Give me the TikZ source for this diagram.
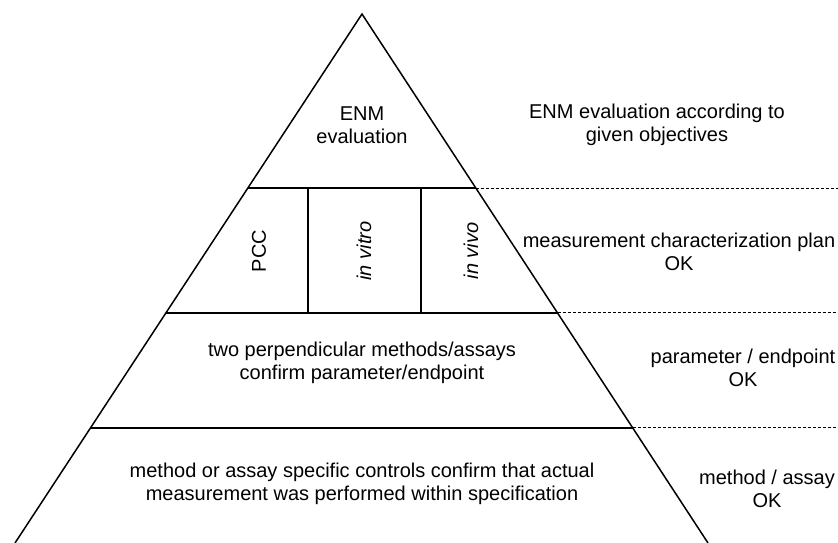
\documentclass[tikz,border=0pt]{standalone}
\usepackage{fontspec}
\setmainfont{Liberation Sans}
\usetikzlibrary{calc}

\begin{document}
\begin{tikzpicture}[
    x=1pt, y=-1pt,
    side/.style={line width=1.5pt, line join=miter},
    tier/.style={line width=1.5pt},
    guide/.style={line width=1pt, dash pattern=on 3pt off 2pt},
    txt/.style={align=center, inner sep=0pt,
        font=\fontsize{20}{22.5}\selectfont},
    upright/.style={txt, rotate=90},
]

% ── Frame ──────────────────────────────────────────────────────────────────
\useasboundingbox (0,0) rectangle (838,543);

% ── Pyramid outline ────────────────────────────────────────────────────────
\coordinate (apex) at (362,14);
\coordinate (bl)   at (15,543);
\coordinate (br)   at (708,543);

\draw[side] (bl) -- (apex) -- (br);

% ── Tier boundaries ────────────────────────────────────────────────────────
\def\tA{0.329}
\def\tB{0.5652}
\def\tC{0.7826}

\coordinate (aL) at ($(apex)!\tA!(bl)$);
\coordinate (aR) at ($(apex)!\tA!(br)$);
\coordinate (bL) at ($(apex)!\tB!(bl)$);
\coordinate (bR) at ($(apex)!\tB!(br)$);
\coordinate (cL) at ($(apex)!\tC!(bl)$);
\coordinate (cR) at ($(apex)!\tC!(br)$);

\draw[tier] (aL) -- (aR);
\draw[tier] (bL) -- (bR);
\draw[tier] (cL) -- (cR);

% dashed guides out to the right margin
\coordinate (aE) at (838,0 |- aR);
\coordinate (bE) at (838,0 |- bR);
\coordinate (cE) at (838,0 |- cR);

\draw[guide] (aR) -- (aE);
\draw[guide] (bR) -- (bE);
\draw[guide] (cR) -- (cE);

% ── Study columns ──────────────────────────────────────────────────────────
\coordinate (v1t) at (308,0 |- aL);
\coordinate (v1b) at (308,0 |- bL);
\coordinate (v2t) at (421,0 |- aL);
\coordinate (v2b) at (421,0 |- bL);

\draw[tier] (v1t) -- (v1b);
\draw[tier] (v2t) -- (v2b);

% ── Labels inside the pyramid ──────────────────────────────────────────────
\node[txt] (top)   at (362,125) {ENM\\evaluation};

\node[upright] (pcc)   at (259,251) {PCC};
\node[upright] (vitro) at (364,251) {\itshape in vitro};
\node[upright] (vivo)  at (471,251) {\itshape in vivo};

\node[txt] (perp)  at (362,363) {two perpendicular methods/assays\\confirm parameter/endpoint};
\node[txt] (ctrl)  at (362,484) {method or assay specific controls confirm that actual\\measurement was performed within specification};

% ── Labels on the right ────────────────────────────────────────────────────
\node[txt] (goal)  at (657,125) {ENM evaluation according to\\given objectives};
\node[txt] (plan)  at (679,252) {measurement characterization plan\\OK};
\node[txt] (param) at (743,368) {parameter / endpoint\\OK};
\node[txt] (meth)  at (767,489) {method / assay\\OK};

\end{tikzpicture}
\end{document}
